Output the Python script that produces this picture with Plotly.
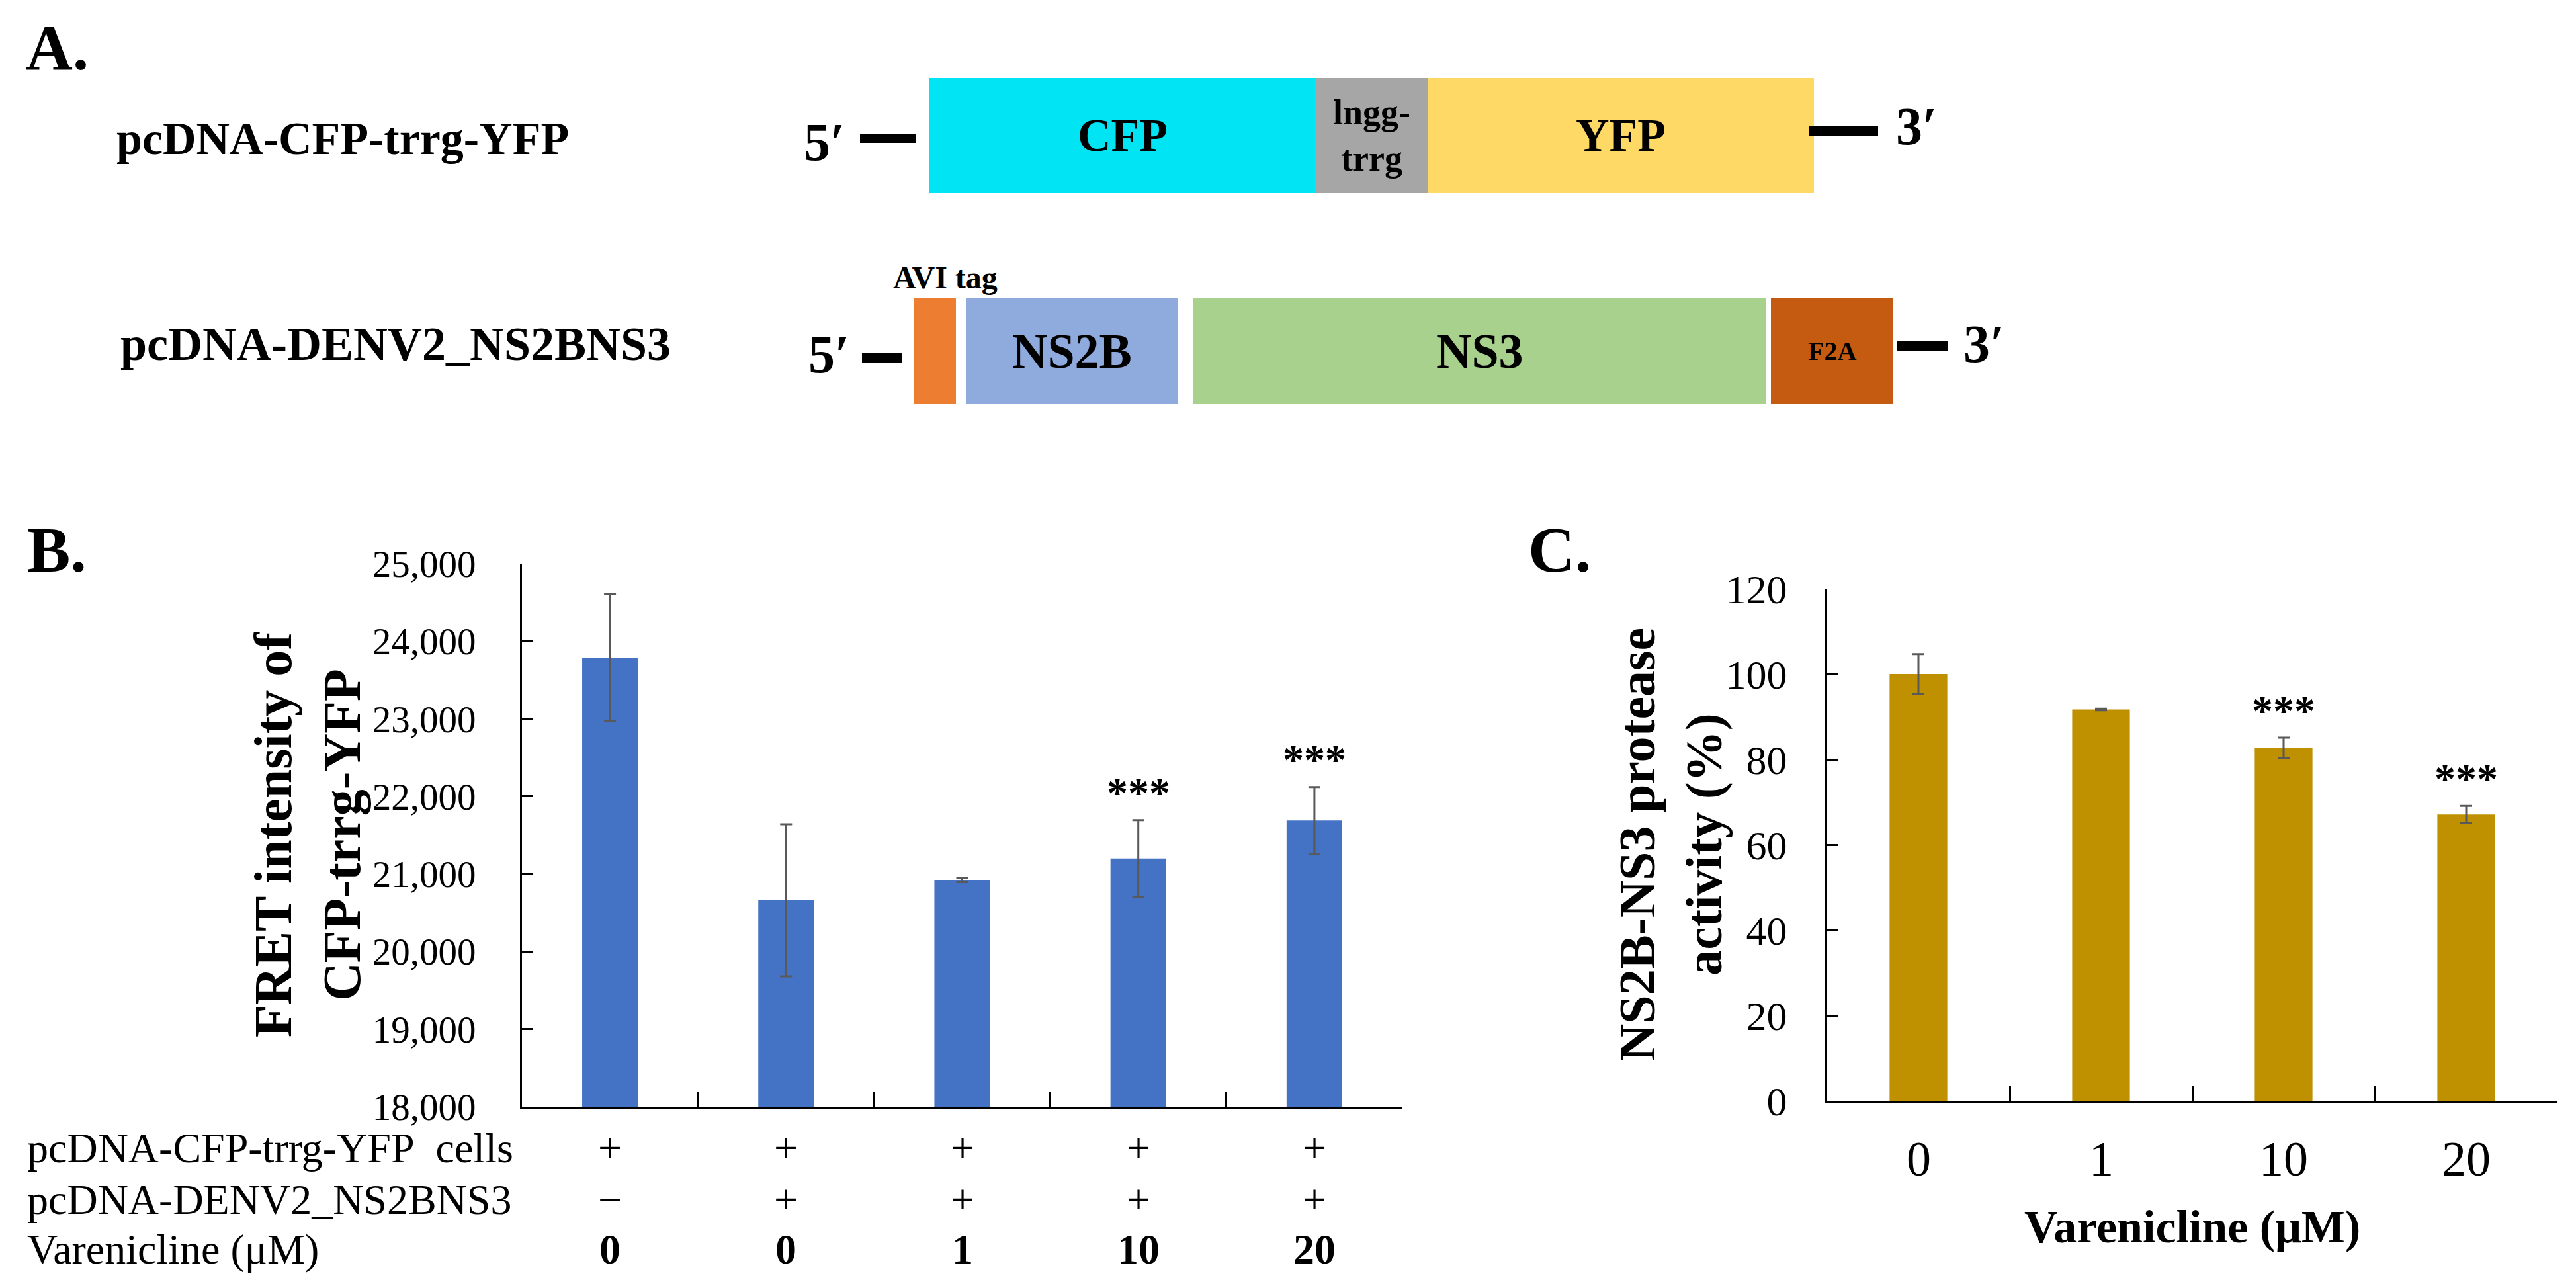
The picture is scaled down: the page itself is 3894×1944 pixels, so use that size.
import plotly.graph_objects as go

W, H = 3894, 1944
FONT = "Liberation Serif, Times New Roman, serif"

# ---------------- data ----------------
# Panel A: construct schematics (segment names, drawn lengths, colours)
construct1_name = "pcDNA-CFP-trrg-YFP"
construct1_parts = ["CFP", "lngg-<br>trrg", "YFP"]
construct1_lengths = [583, 170, 584]
construct1_gaps = [0, 0]
construct1_colors = ["#00E4F3", "#A6A6A6", "#FFD966"]

construct2_name = "pcDNA-DENV2_NS2BNS3"
construct2_parts = ["", "NS2B", "NS3", "F2A"]
construct2_lengths = [63, 320, 865, 185]
construct2_gaps = [15, 24, 8]
construct2_colors = ["#ED7D31", "#8FAADC", "#A9D18E", "#C55A11"]
avi_label = "AVI tag"

# Panel B
b_values = [23790, 20660, 20920, 21200, 21690]
b_errors = [820, 980, 25, 495, 430]
b_sig = ["", "", "", "***", "***"]
b_row_labels = ["pcDNA-CFP-trrg-YFP\u00a0 cells", "pcDNA-DENV2_NS2BNS3", "Varenicline (\u03bcM)"]
b_row_cfp = ["+", "+", "+", "+", "+"]
b_row_ns = ["\u2212", "+", "+", "+", "+"]
b_row_dose = ["0", "0", "1", "10", "20"]

# Panel C
c_labels = ["0", "1", "10", "20"]
c_values = [100.0, 91.7, 82.7, 67.1]
c_errors = [4.7, 0.2, 2.4, 2.0]
c_sig = ["", "", "***", "***"]


def px(x):
    return x / W


def py(y):
    return 1 - y / H


fig = go.Figure()
ann = []
shapes = []

# ---------------- Panel A (schematic on hidden axes x3/y3) ----------------
U = 326.0  # pixels per row unit on y3
starts = [1397, 1374]
rows = []
for r, (lengths, gaps) in enumerate([(construct1_lengths, construct1_gaps),
                                     (construct2_lengths, construct2_gaps)]):
    b = []
    pos = starts[r]
    for i, L in enumerate(lengths):
        b.append(pos)
        pos += L + (gaps[i] if i < len(gaps) else 0)
    rows.append(b)

bases = rows[0] + rows[1]
lens = construct1_lengths + construct2_lengths
ys = [0] * len(construct1_lengths) + [1] * len(construct2_lengths)
thick = [173 / U] * len(construct1_lengths) + [161 / U] * len(construct2_lengths)
cols = construct1_colors + construct2_colors

fig.add_trace(go.Bar(orientation="h", y=ys, x=lens, base=bases, width=thick,
                     marker=dict(color=cols, line=dict(width=0)),
                     xaxis="x3", yaxis="y3", showlegend=False, hoverinfo="skip"))

part_sizes = [[70, 54, 70], [0, 74, 74, 40]]
for r, (parts, lengths) in enumerate([(construct1_parts, construct1_lengths),
                                      (construct2_parts, construct2_lengths)]):
    for i, (p, L) in enumerate(zip(parts, lengths)):
        if not p:
            continue
        ann.append(dict(x=rows[r][i] + L / 2, y=r, xref="x3", yref="y3", text="<b>%s</b>" % p,
                        showarrow=False, font=dict(family=FONT, size=part_sizes[r][i], color="black"),
                        xanchor="center", yanchor="middle"))

ends = [rows[0][-1] + construct1_lengths[-1], rows[1][-1] + construct2_lengths[-1]]
# flanking lines
dash_specs = [
    (0, starts[0] - 105, starts[0] - 21, 4.5),
    (0, ends[0] - 8, ends[0] + 97, -6.5),
    (1, starts[1] - 79, starts[1] - 18, 10.5),
    (1, ends[1] + 5, ends[1] + 82, -7.5),
]
for r, x0, x1, off in dash_specs:
    shapes.append(dict(type="line", xref="x3", yref="y3", x0=x0, x1=x1,
                       y0=r + off / U, y1=r + off / U, line=dict(color="black", width=14)))

prime_specs = [(starts[0] - 159, 0, 10.5, "5\u2032"), (ends[0] + 155, 0, -13.5, "3\u2032"),
               (starts[1] - 129, 1, 5.5, "5\u2032"), (ends[1] + 137, 1, -10.5, "3\u2032")]
for x, r, off, t in prime_specs:
    ann.append(dict(x=x, y=r + off / U, xref="x3", yref="y3", text="<b>%s</b>" % t, showarrow=False,
                    font=dict(family=FONT, size=80, color="black"), xanchor="center", yanchor="middle"))

ann.append(dict(x=rows[1][0] - 34, y=1 - 111 / U, xref="x3", yref="y3", text="<b>%s</b>" % avi_label,
                showarrow=False, font=dict(family=FONT, size=48, color="black"),
                xanchor="left", yanchor="middle"))

ann.append(dict(x=px(166), y=py(202), xref="paper", yref="paper", text="<b>%s</b>" % construct1_name,
                showarrow=False, font=dict(family=FONT, size=70, color="black"),
                xanchor="left", yanchor="middle"))
ann.append(dict(x=px(172), y=py(512), xref="paper", yref="paper", text="<b>%s</b>" % construct2_name,
                showarrow=False, font=dict(family=FONT, size=72, color="black"),
                xanchor="left", yanchor="middle"))

# panel letters
for t, x, y in [("A.", 29, 64), ("B.", 31, 823), ("C.", 2300, 823)]:
    ann.append(dict(x=px(x), y=py(y), xref="paper", yref="paper", text="<b>%s</b>" % t,
                    showarrow=False, font=dict(family=FONT, size=98, color="black"),
                    xanchor="left", yanchor="middle"))

# ---------------- Panel B ----------------
b_x = list(range(len(b_values)))
fig.add_trace(go.Bar(x=b_x, y=b_values, width=0.316, marker=dict(color="#4472C4", line=dict(width=0)),
                     error_y=dict(type="data", array=b_errors, color="#595959", thickness=3, width=9),
                     xaxis="x", yaxis="y", showlegend=False))
for i, s in enumerate(b_sig):
    if s:
        ann.append(dict(x=b_x[i], y=b_values[i] + b_errors[i], xref="x", yref="y", text="<b>%s</b>" % s,
                        showarrow=False, font=dict(family=FONT, size=64, color="black"),
                        xanchor="center", yanchor="bottom", yshift=4))

row_y = [1727, 1805, 1880]
for lab, yy in zip(b_row_labels, row_y):
    ann.append(dict(x=px(31), y=py(yy), xref="paper", yref="paper", text=lab, showarrow=False,
                    font=dict(family=FONT, size=64, color="black"), xanchor="left", yanchor="middle"))
for row, yy, bold in [(b_row_cfp, row_y[0], False), (b_row_ns, row_y[1], False), (b_row_dose, row_y[2], True)]:
    for i, t in enumerate(row):
        ann.append(dict(x=b_x[i], y=py(yy), xref="x", yref="paper",
                        text=("<b>%s</b>" % t) if bold else t, showarrow=False,
                        font=dict(family=FONT, size=64, color="black"), xanchor="center", yanchor="middle"))

ann.append(dict(x=px(457), y=py(1254), xref="paper", yref="paper",
                text="<b>FRET intensity of<br>CFP-trrg-YFP</b>", textangle=-90, showarrow=False,
                font=dict(family=FONT, size=80, color="black"), xanchor="center", yanchor="middle"))

# ---------------- Panel C ----------------
c_x = list(range(len(c_labels)))
fig.add_trace(go.Bar(x=c_x, y=c_values, width=0.316, marker=dict(color="#BF9000", line=dict(width=0)),
                     error_y=dict(type="data", array=c_errors, color="#595959", thickness=3, width=9),
                     xaxis="x2", yaxis="y2", showlegend=False))
for i, s in enumerate(c_sig):
    if s:
        ann.append(dict(x=c_x[i], y=c_values[i] + c_errors[i], xref="x2", yref="y2", text="<b>%s</b>" % s,
                        showarrow=False, font=dict(family=FONT, size=64, color="black"),
                        xanchor="center", yanchor="bottom", yshift=3))
for i, t in enumerate(c_labels):
    ann.append(dict(x=c_x[i], y=py(1744), xref="x2", yref="paper", text=t, showarrow=False,
                    font=dict(family=FONT, size=74, color="black"), xanchor="center", yanchor="middle"))

ann.append(dict(x=px(2517), y=py(1269), xref="paper", yref="paper",
                text="<b>NS2B-NS3 protease<br>activity (%)</b>", textangle=-90, showarrow=False,
                font=dict(family=FONT, size=78, color="black"), xanchor="center", yanchor="middle"))
ann.append(dict(x=px(3306), y=py(1846), xref="paper", yref="paper",
                text="<b>Varenicline (\u03bcM)</b>", showarrow=False,
                font=dict(family=FONT, size=70, color="black"), xanchor="center", yanchor="middle"))

axis_common = dict(showgrid=False, zeroline=False, showline=True, linecolor="black", linewidth=3,
                   ticks="inside", tickcolor="black", tickwidth=3, automargin=False)

fig.update_layout(
    template="none",
    width=W, height=H, margin=dict(l=0, r=0, t=0, b=0, pad=0, autoexpand=False),
    paper_bgcolor="white", plot_bgcolor="white",
    font=dict(family=FONT, color="black"),
    showlegend=False,
    xaxis=dict(domain=[px(781), px(2112)], anchor="y", range=[-0.5, len(b_values) - 0.5],
               tickvals=[i - 0.5 for i in range(len(b_values) + 1)], showticklabels=False,
               ticklen=23, **axis_common),
    yaxis=dict(domain=[py(1665), py(844)], anchor="x", range=[18000, 25000], dtick=1000,
               tickformat=",d", ticklen=17, tickfont=dict(family=FONT, size=57, color="black"),
               ticklabelstandoff=55, **axis_common),
    xaxis2=dict(domain=[px(2754), px(3858)], anchor="y2", range=[-0.5, len(c_labels) - 0.5],
                tickvals=[i - 0.5 for i in range(len(c_labels) + 1)], showticklabels=False,
                ticklen=22, **axis_common),
    yaxis2=dict(domain=[py(1656), py(882)], anchor="x2", range=[0, 120], dtick=20,
                ticklen=17, tickfont=dict(family=FONT, size=62, color="black"),
                ticklabelstandoff=45, **axis_common),
    xaxis3=dict(domain=[0, 1], anchor="y3", range=[0, W], visible=False, fixedrange=True),
    yaxis3=dict(domain=[py(650), 1], anchor="x3", range=[(650 - 196.5) / U, -196.5 / U],
                visible=False, fixedrange=True),
    annotations=ann,
    shapes=shapes,
)

fig.write_html("out.html")
